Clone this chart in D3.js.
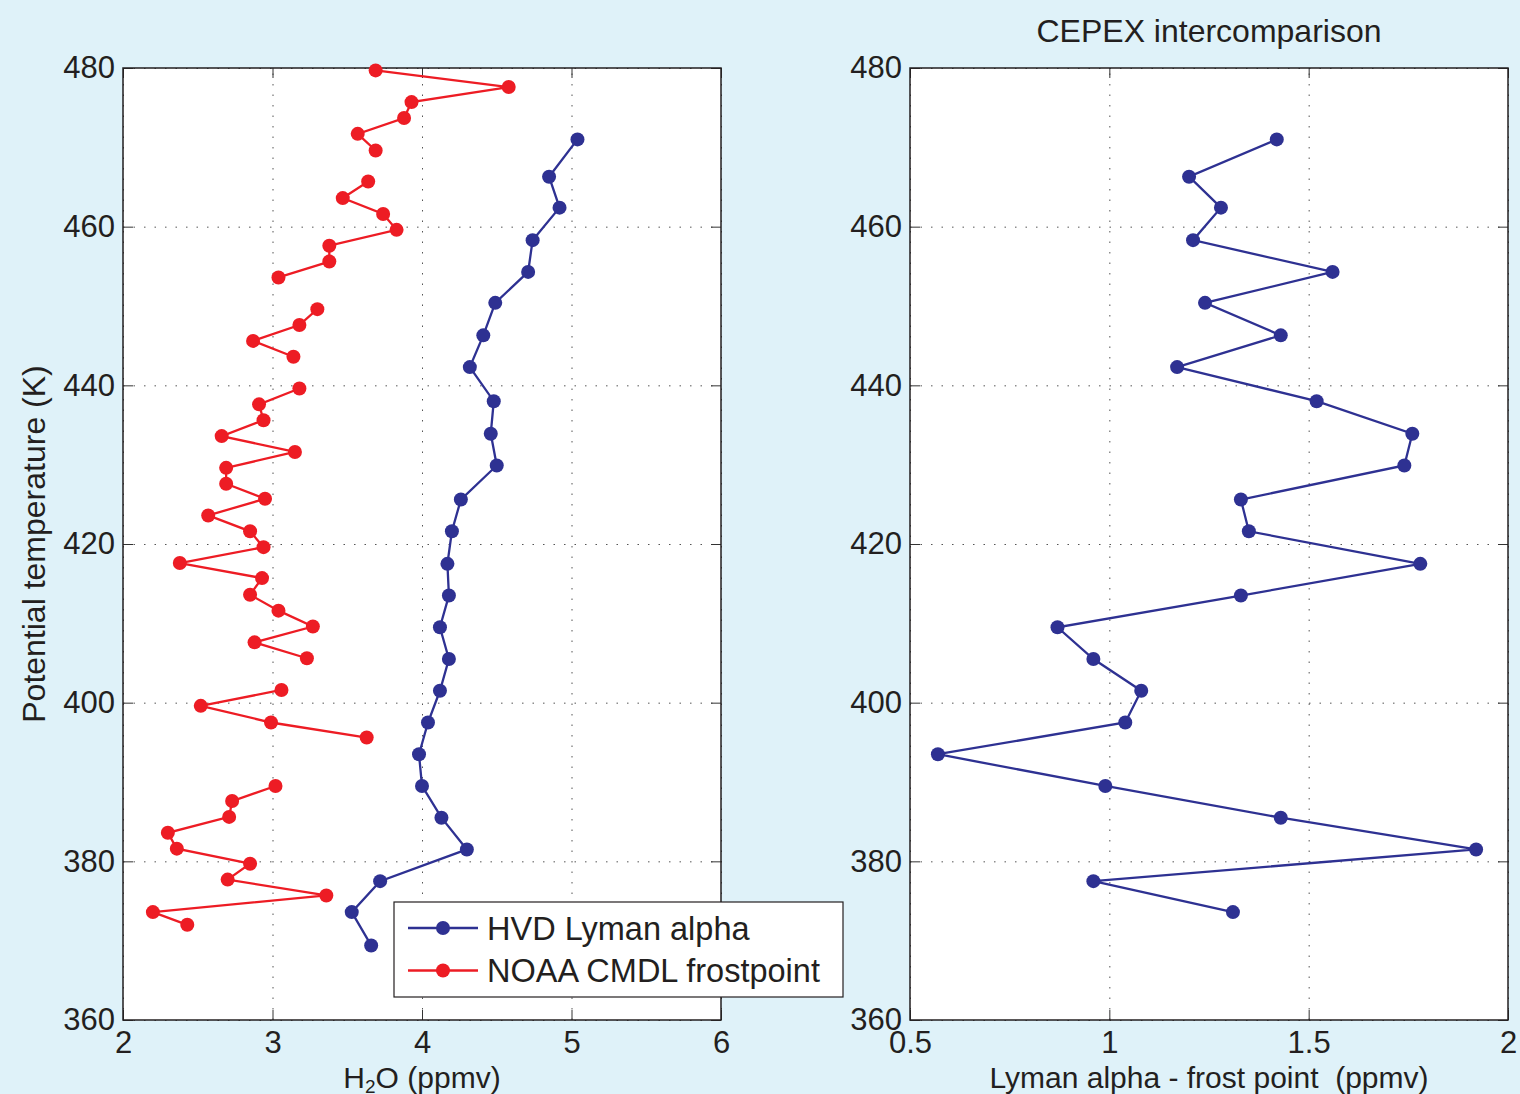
<!DOCTYPE html>
<html>

<head>
    <meta charset="utf-8">
    <style>
        body {
            margin: 0;
            background: #dff2f9;
        }

        svg {
            display: block;
            font-family: 'Liberation Sans', Arial, Helvetica, sans-serif;
        }

        .tick text {
            fill: #231f20;
            font-size: 31px;
        }

        .domain {
            display: none;
        }

        .tick line {
            stroke: #333;
            stroke-width: 1;
        }

        .grid .tick line {
            stroke: #555;
            stroke-dasharray: 1.5, 9;
        }

        .label {
            fill: #231f20;
            font-size: 32px;
        }
    </style>
</head>

<body>
    <svg width="1520" height="1094"></svg>
</body>

<script src="https://d3js.org/d3.v7.min.js"></script>

<script>
    // NOAA CMDL frostpoint, every ~2 K (null = no measurement)
    let noaaTheta = [479.7, 477.6, 475.7, 473.7, 471.7, 469.6, 467.6, 465.7, 463.6, 461.6, 459.6, 457.6, 455.6, 453.6, 451.6,
        449.6, 447.6, 445.6, 443.6, 441.6, 439.6, 437.6, 435.6, 433.6, 431.6, 429.6, 427.6, 425.7, 423.6, 421.6, 419.6,
        417.6, 415.7, 413.6, 411.6, 409.6, 407.6, 405.6, 403.6, 401.6, 399.6, 397.5, 395.6, 393.6, 391.6, 389.5, 387.6,
        385.6, 383.6, 381.6, 379.7, 377.7, 375.7, 373.6, 372.0];
    let noaaH2O = [3.69, 4.58, 3.93, 3.88, 3.57, 3.69, null, 3.64, 3.47, 3.74, 3.83, 3.38, 3.38, 3.04, null,
        3.30, 3.18, 2.87, 3.14, null, 3.18, 2.91, 2.94, 2.66, 3.15, 2.69, 2.69, 2.95, 2.57, 2.85, 2.94,
        2.38, 2.93, 2.85, 3.04, 3.27, 2.88, 3.23, null, 3.06, 2.52, 2.99, 3.63, null, null, 3.02, 2.73,
        2.71, 2.30, 2.36, 2.85, 2.70, 3.36, 2.20, 2.43];

    // HVD Lyman alpha, every ~4 K
    let hvdTheta = [471.0, 466.3, 462.4, 458.3, 454.3, 450.4, 446.3, 442.3, 438.0, 433.9, 429.9, 425.6, 421.6,
        417.5, 413.5, 409.5, 405.5, 401.5, 397.5, 393.5, 389.5, 385.5, 381.5, 377.5, 373.6, 369.4];
    let hvdH2O = [5.04, 4.85, 4.92, 4.74, 4.71, 4.49, 4.41, 4.32, 4.48, 4.46, 4.50, 4.26, 4.20,
        4.17, 4.18, 4.12, 4.18, 4.12, 4.04, 3.98, 4.00, 4.13, 4.30, 3.72, 3.53, 3.66];

    // Lyman alpha - frost point, at the HVD levels
    let diffTheta = hvdTheta.slice(0, 25);
    let diffH2O = [1.42, 1.20, 1.28, 1.21, 1.56, 1.24, 1.43, 1.17, 1.52, 1.76, 1.74, 1.33, 1.35,
        1.78, 1.33, 0.87, 0.96, 1.08, 1.04, 0.57, 0.99, 1.43, 1.92, 0.96, 1.31];

    let thetaTicks = [360, 380, 400, 420, 440, 460, 480];
    let leftTicks = [2, 3, 4, 5, 6];
    let rightTicks = [0.5, 1, 1.5, 2];
    let seriesNames = ["HVD Lyman alpha", "NOAA CMDL frostpoint"];

    let blue = "#2e3192";
    let red = "#ed1c24";

    let svg = d3.select("svg");

    let plotTop = 68, plotBottom = 1020;

    let y = d3.scaleLinear()
        .domain([360, 480])
        .range([plotBottom, plotTop]);

    let xLeft = d3.scaleLinear()
        .domain([2, 6])
        .range([123, 721]);

    let xRight = d3.scaleLinear()
        .domain([0.5, 2])
        .range([910, 1508]);

    function drawPanel(x, xTicks, fmt) {
        let x0 = x.range()[0], x1 = x.range()[1];
        let g = svg.append("g");

        g.append("rect")
            .attr("x", x0).attr("y", plotTop)
            .attr("width", x1 - x0).attr("height", plotBottom - plotTop)
            .attr("fill", "white");

        // dotted grid
        g.append("g").attr("class", "grid")
            .attr("transform", `translate(0,${plotBottom})`)
            .call(d3.axisBottom(x).tickValues(xTicks).tickSize(-(plotBottom - plotTop)).tickFormat(""));
        g.append("g").attr("class", "grid")
            .attr("transform", `translate(${x0},0)`)
            .call(d3.axisLeft(y).tickValues(thetaTicks).tickSize(-(x1 - x0)).tickFormat(""));

        // inward ticks on all four sides
        g.append("g")
            .attr("transform", `translate(0,${plotBottom})`)
            .call(d3.axisBottom(x).tickValues(xTicks).tickSize(-10).tickPadding(11).tickFormat(fmt));
        g.append("g")
            .attr("transform", `translate(0,${plotTop})`)
            .call(d3.axisTop(x).tickValues(xTicks).tickSize(-10).tickFormat(""));
        g.append("g")
            .attr("transform", `translate(${x0},0)`)
            .call(d3.axisLeft(y).tickValues(thetaTicks).tickSize(-10).tickPadding(8));
        g.append("g")
            .attr("transform", `translate(${x1},0)`)
            .call(d3.axisRight(y).tickValues(thetaTicks).tickSize(-10).tickFormat(""));

        g.append("rect")
            .attr("x", x0).attr("y", plotTop)
            .attr("width", x1 - x0).attr("height", plotBottom - plotTop)
            .attr("fill", "none")
            .attr("stroke", "#231f20")
            .attr("stroke-width", 1.5);
    }

    function drawSeries(x, thetas, values, color) {
        let pts = thetas.map((t, i) => ({ t: t, v: values[i] }));
        let line = d3.line()
            .defined(d => d.v !== null)
            .x(d => x(d.v))
            .y(d => y(d.t));

        svg.append("path")
            .datum(pts)
            .attr("d", line)
            .attr("fill", "none")
            .attr("stroke", color)
            .attr("stroke-width", 2.3);

        svg.append("g")
            .selectAll("circle")
            .data(pts.filter(d => d.v !== null))
            .join("circle")
            .attr("cx", d => x(d.v))
            .attr("cy", d => y(d.t))
            .attr("r", 7)
            .attr("fill", color);
    }

    drawPanel(xLeft, leftTicks, d3.format("d"));
    drawPanel(xRight, rightTicks, d => d);

    drawSeries(xLeft, hvdTheta, hvdH2O, blue);
    drawSeries(xLeft, noaaTheta, noaaH2O, red);
    drawSeries(xRight, diffTheta, diffH2O, blue);

    // labels
    svg.append("text")
        .attr("class", "label")
        .attr("transform", `translate(45,${(plotTop + plotBottom) / 2}) rotate(-90)`)
        .attr("text-anchor", "middle")
        .text("Potential temperature (K)");

    let h2o = svg.append("text")
        .attr("class", "label")
        .attr("x", 422)
        .attr("y", 1088)
        .attr("text-anchor", "middle")
        .style("font-size", "30px");
    h2o.append("tspan").text("H");
    h2o.append("tspan").text("2").attr("font-size", "19px").attr("dy", 5);
    h2o.append("tspan").text("O (ppmv)").attr("dy", -5);

    svg.append("text")
        .attr("class", "label")
        .attr("x", 1209)
        .attr("y", 1088)
        .attr("text-anchor", "middle")
        .attr("xml:space", "preserve")
        .style("font-size", "30px")
        .text("Lyman alpha - frost point  (ppmv)");

    svg.append("text")
        .attr("class", "label")
        .attr("x", 1209)
        .attr("y", 42)
        .attr("text-anchor", "middle")
        .text("CEPEX intercomparison");

    // legend
    let legend = svg.append("g");
    legend.append("rect")
        .attr("x", 394).attr("y", 902)
        .attr("width", 449).attr("height", 95)
        .attr("fill", "white")
        .attr("stroke", "#231f20")
        .attr("stroke-width", 1.2);

    let items = legend.selectAll("g.item")
        .data(seriesNames)
        .join("g")
        .attr("class", "item")
        .attr("transform", (d, i) => `translate(0,${928 + i * 42.5})`);
    items.append("line")
        .attr("x1", 408).attr("x2", 478)
        .attr("stroke", (d, i) => i == 0 ? blue : red)
        .attr("stroke-width", 2.3);
    items.append("circle")
        .attr("cx", 443).attr("r", 7)
        .attr("fill", (d, i) => i == 0 ? blue : red);
    items.append("text")
        .attr("class", "label")
        .attr("x", 487)
        .attr("dy", "0.36em")
        .style("font-size", "32.5px")
        .text(d => d);
</script>

</html>
